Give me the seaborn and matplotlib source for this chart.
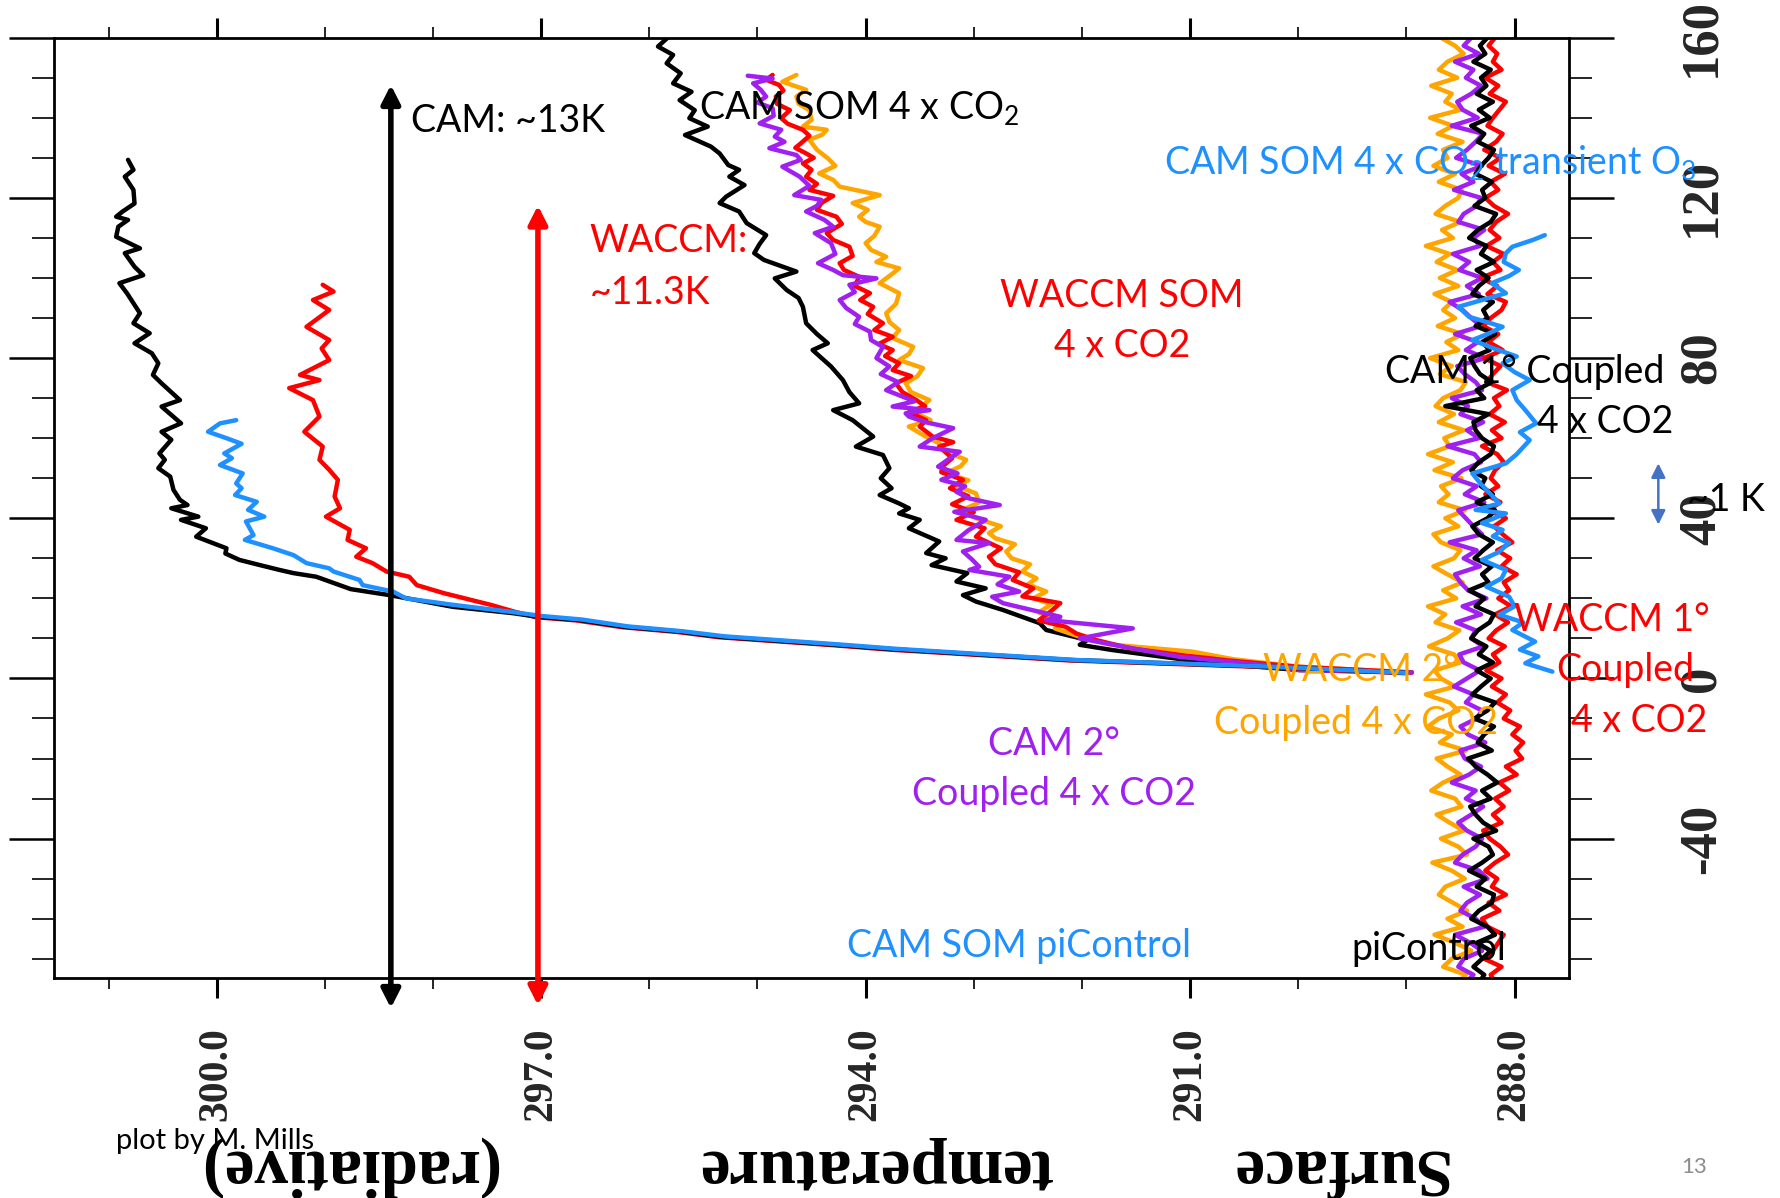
import numpy as np
import pandas as pd
import matplotlib
matplotlib.use("Agg")
import matplotlib.pyplot as plt
import seaborn as sns
from matplotlib.ticker import FixedLocator, MultipleLocator
from matplotlib.patches import ArrowStyle

# ------------------------------------------------------------------ data
temp_ticks = [300.0, 297.0, 294.0, 291.0, 288.0]
temp_tick_labels = ["300.0", "297.0", "294.0", "291.0", "288.0"]
year_ticks = [160, 120, 80, 40, 0, -40]
year_tick_labels = ["160", "120", "80", "40", "0", "-40"]

# CAM SOM 4xCO2 (black)
cam_som_yr = [1.4, 3.0, 4.6, 7.3, 8.4, 10.4, 11.7, 12.9, 14.6, 15.4, 16.3, 17.9, 20.8, 22.3, 25.4, 26.3,
              27.1, 28.3, 29.6, 31.2, 32.5, 35.4, 37.5, 39.6, 40.4, 42.5, 43.3, 44.6, 47.1, 50.4, 52.5,
              54.6, 56.2, 59.6, 61.6, 63.7, 67.9, 69.5, 73.7, 75.8, 78.7, 81.2, 83.7, 86.2, 88.7, 91.2,
              93.7, 96.2, 98.7, 100.7, 102.8, 106.2, 107.4, 110.3, 112.8, 114.5, 115.3, 116.6, 118.6,
              122.0, 125.3, 127.0, 129.5]
cam_som_t = [289.00, 290.34, 292.10, 293.75, 294.28, 295.34, 295.72, 296.23, 296.65, 297.03, 297.26,
             297.82, 298.40, 298.76, 299.08, 299.29, 299.42, 299.60, 299.79, 299.92, 299.91, 300.19,
             300.10, 300.33, 300.17, 300.42, 300.27, 300.34, 300.40, 300.43, 300.54, 300.48, 300.53,
             300.42, 300.51, 300.33, 300.51, 300.34, 300.51, 300.59, 300.54, 300.60, 300.76, 300.62,
             300.77, 300.71, 300.77, 300.83, 300.90, 300.68, 300.76, 300.85, 300.71, 300.93, 300.91,
             300.82, 300.93, 300.87, 300.76, 300.77, 300.85, 300.77, 300.82]

# CAM SOM 4xCO2 transient O3 (blue)
cam_som_o3_yr = [1.4, 3.0, 4.6, 7.4, 8.5, 10.5, 11.8, 13.0, 14.7, 15.6, 16.5, 18.4, 20.0, 21.7, 23.3,
                 24.6, 26.7, 27.5, 28.8, 30.8, 32.5, 34.6, 35.8, 39.2, 40.4, 42.1, 44.1, 45.8, 47.5,
                 48.7, 51.2, 53.3, 55.0, 56.2, 58.6, 60.0, 61.6, 63.7, 64.5]
cam_som_o3_t = [289.00, 290.30, 292.05, 293.72, 294.25, 295.30, 295.70, 296.20, 296.62, 297.00, 297.24,
                297.82, 298.25, 298.37, 298.65, 298.68, 298.92, 298.96, 299.17, 299.29, 299.48, 299.74,
                299.66, 299.73, 299.56, 299.71, 299.63, 299.83, 299.77, 299.82, 299.76, 299.97, 299.86,
                299.93, 299.77, 299.91, 300.08, 299.97, 299.82]

# WACCM SOM 4xCO2 (red)
waccm_som_yr = [1.3, 2.9, 4.5, 7.2, 8.3, 10.3, 11.6, 12.8, 14.5, 15.3, 16.7, 18.4, 21.3, 23.3, 25.4,
                26.7, 28.8, 30.4, 32.5, 34.6, 37.1, 40.4, 42.5, 45.4, 49.6, 52.1, 54.6, 57.9, 61.6,
                65.4, 69.5, 72.5, 74.5, 75.8, 79.5, 82.4, 84.5, 87.8, 92.0, 94.5, 96.6, 98.3]
waccm_som_t = [289.00, 290.36, 292.12, 293.78, 294.30, 295.36, 295.74, 296.25, 296.68, 297.05, 297.25,
               297.47, 297.90, 298.15, 298.22, 298.43, 298.56, 298.71, 298.62, 298.79, 298.77, 298.99,
               298.86, 298.91, 298.88, 298.96, 299.05, 299.02, 299.19, 299.05, 299.11, 299.33, 299.05,
               299.23, 298.96, 299.03, 298.96, 299.17, 298.96, 299.11, 298.92, 299.02]

# CAM 1 deg coupled 4xCO2 (black)
cam1_cpl_yr = [1.5, 2.1, 3.8, 5.4, 7.1, 8.4, 9.6, 12.1, 13.8, 17.1, 19.2, 20.8, 22.5, 24.2, 26.3, 28.3,
               30.0, 31.3, 34.2, 37.5, 39.6, 41.2, 42.5, 43.7, 45.8, 47.5, 50.0, 52.5, 55.8, 57.9, 60.4,
               64.5, 67.0, 68.7, 71.5, 74.5, 77.9, 82.0, 83.7, 86.0, 88.7, 92.8, 95.0, 97.0, 99.9,
               101.6, 104.5, 106.2, 108.5, 110.7, 113.7, 116.6, 118.7, 120.3, 123.2, 125.3, 127.0,
               128.2, 131.1, 132.8, 135.7, 137.8, 139.9, 141.9, 144.4, 146.5, 148.6, 151.1, 153.6,
               155.7, 157.8, 160.5]
cam1_cpl_t = [288.95, 289.99, 290.79, 291.25, 291.72, 292.02, 291.95, 292.33, 292.39, 292.73, 292.98,
              293.10, 292.89, 293.16, 293.06, 293.39, 293.26, 293.44, 293.32, 293.60, 293.50, 293.69,
              293.60, 293.69, 293.87, 293.76, 293.86, 293.78, 293.84, 294.09, 293.93, 294.12, 294.30,
              294.06, 294.15, 294.21, 294.32, 294.49, 294.35, 294.45, 294.55, 294.58, 294.62, 294.73,
              294.84, 294.64, 294.94, 295.03, 294.98, 294.92, 295.10, 295.17, 295.35, 295.29, 295.12,
              295.26, 295.17, 295.27, 295.35, 295.43, 295.67, 295.46, 295.63, 295.58, 295.72, 295.61,
              295.78, 295.71, 295.84, 295.78, 295.92, 295.81]

# CAM 2 deg coupled 4xCO2 (purple)
cam2_cpl_yr = [1.5, 2.1, 3.4, 5.4, 7.5, 10.0, 12.5, 14.6, 15.4, 17.0, 18.8, 20.4, 21.7, 23.5, 25.4,
               27.1, 27.9, 29.8, 31.7, 33.8, 34.6, 37.0, 39.6, 41.6, 43.3, 45.0, 46.6, 48.0, 49.6,
               51.2, 52.9, 55.0, 56.6, 57.9, 60.0, 62.5, 64.0, 65.4, 66.2, 67.0, 67.9, 69.2, 70.4,
               72.0, 74.0, 76.0, 77.9, 80.0, 82.8, 84.5, 86.6, 88.5, 90.3, 92.5, 94.5, 96.5, 98.3,
               99.9, 100.7, 102.0, 103.7, 106.0, 108.7, 111.2, 112.8, 114.5, 116.6, 118.0, 119.5,
               120.7, 123.0, 125.3, 127.8, 129.5, 130.7, 132.4, 134.0, 135.3, 137.0, 138.6, 140.5,
               142.4, 143.8, 145.3, 147.0, 148.6, 149.8, 150.5]
cam2_cpl_t = [288.95, 289.99, 290.33, 291.10, 291.53, 292.02, 291.53, 292.33, 292.20, 292.45, 292.73,
              292.83, 292.58, 292.78, 292.67, 293.04, 292.95, 293.02, 293.10, 292.86, 293.16, 293.05,
              292.89, 293.18, 292.76, 293.05, 293.16, 293.08, 293.30, 293.15, 293.33, 293.22, 293.13,
              293.50, 293.38, 293.19, 293.45, 293.60, 293.63, 293.41, 293.75, 293.55, 293.66, 293.81,
              293.70, 293.86, 293.78, 293.90, 293.84, 293.95, 293.96, 294.10, 294.06, 294.18, 294.24,
              294.10, 294.15, 293.90, 294.21, 294.30, 294.44, 294.28, 294.32, 294.47, 294.30, 294.38,
              294.55, 294.45, 294.41, 294.66, 294.52, 294.61, 294.77, 294.60, 294.64, 294.89, 294.75,
              294.84, 294.78, 294.98, 294.85, 294.86, 295.00, 294.92, 294.97, 295.04, 294.86, 295.09]

# WACCM 1 deg coupled 4xCO2 (red)
waccm1_cpl_yr = [1.5, 2.9, 4.5, 5.9, 7.5, 9.6, 11.2, 12.9, 14.5, 16.5, 18.8, 20.5, 22.5, 24.6, 26.5,
                 28.5, 30.4, 32.5, 35.4, 37.5, 39.6, 41.5, 43.5, 45.5, 47.5, 49.6, 51.5, 52.9, 55.0,
                 57.9, 59.0, 60.4, 62.9, 64.5, 66.5, 68.0, 69.5, 71.5, 73.7, 75.5, 77.0, 78.7, 80.5,
                 82.0, 83.5, 85.3, 87.0, 88.7, 91.0, 92.8, 94.5, 96.2, 98.0, 100.3, 102.0, 103.7,
                 105.5, 107.8, 109.5, 111.2, 113.5, 115.3, 117.0, 118.7, 120.5, 122.0, 123.5, 125.3,
                 127.0, 128.6, 130.0, 131.1, 132.5, 133.6, 135.5, 137.0, 138.5, 139.9, 141.9, 143.5,
                 145.3, 146.8, 148.2, 149.5, 150.7]
waccm1_cpl_t = [288.95, 289.99, 290.65, 291.10, 291.55, 291.87, 292.05, 292.15, 292.40, 292.30, 292.20,
                292.55, 292.45, 292.64, 292.58, 292.80, 292.86, 292.75, 292.98, 292.90, 293.16, 293.00,
                293.20, 293.05, 293.22, 293.10, 293.30, 293.29, 293.20, 293.32, 293.19, 293.38, 293.50,
                293.44, 293.60, 293.45, 293.53, 293.66, 293.72, 293.58, 293.75, 293.69, 293.82, 293.75,
                293.88, 293.75, 293.92, 293.84, 293.98, 293.93, 294.05, 293.96, 294.10, 294.06, 294.20,
                294.24, 294.12, 294.15, 294.30, 294.36, 294.22, 294.27, 294.45, 294.41, 294.30, 294.52,
                294.45, 294.55, 294.50, 294.58, 294.48, 294.55, 294.65, 294.60, 294.52, 294.58, 294.72,
                294.78, 294.70, 294.82, 294.83, 294.76, 294.80, 294.92, 294.86]

# WACCM 2 deg coupled 4xCO2 (orange)
waccm2_cpl_yr = [1.5, 2.9, 4.8, 6.7, 8.5, 10.4, 12.5, 14.6, 16.5, 18.5, 20.0, 21.7, 23.5, 25.0, 26.7,
                 28.5, 30.0, 31.7, 33.5, 35.0, 36.3, 38.0, 40.0, 42.1, 44.0, 46.2, 48.0, 49.5, 51.2,
                 53.0, 54.6, 56.5, 58.7, 60.5, 62.9, 64.5, 66.5, 68.0, 69.5, 71.5, 73.7, 75.5, 77.5,
                 79.5, 81.0, 82.8, 85.0, 87.0, 89.0, 91.2, 93.5, 96.2, 98.7, 100.5, 102.4, 104.0,
                 105.3, 107.0, 108.7, 110.5, 112.8, 114.0, 115.3, 117.0, 118.7, 120.7, 122.8, 124.5,
                 126.1, 128.0, 129.9, 132.0, 134.5, 135.8, 137.0, 137.8, 139.5, 141.9, 143.5, 145.3,
                 147.0, 149.0, 150.7]
waccm2_cpl_t = [288.95, 289.99, 290.60, 290.98, 291.75, 292.02, 292.25, 292.20, 292.40, 292.28, 292.45,
                292.33, 292.50, 292.42, 292.55, 292.48, 292.65, 292.70, 292.62, 292.80, 292.86, 292.75,
                292.98, 293.10, 292.95, 292.98, 293.15, 293.05, 293.26, 293.12, 293.07, 293.25, 293.32,
                293.45, 293.60, 293.40, 293.55, 293.48, 293.41, 293.58, 293.63, 293.52, 293.47, 293.69,
                293.60, 293.56, 293.75, 293.69, 293.78, 293.81, 293.72, 293.69, 293.87, 293.78, 293.69,
                293.90, 293.81, 293.95, 294.00, 293.92, 293.87, 294.00, 294.06, 293.98, 294.12, 293.87,
                294.24, 294.30, 294.43, 294.28, 294.35, 294.45, 294.52, 294.40, 294.36, 294.58, 294.50,
                294.52, 294.62, 294.64, 294.55, 294.77, 294.64]

# piControl runs, every 2 years from -76 to 160
ctrl_years = list(range(-76, 161, 2))
waccm2_ctrl_t = [288.52,
    288.45, 288.66, 288.58, 288.40, 288.55, 288.74, 288.48, 288.62, 288.44, 288.57,
    288.70, 288.64, 288.46, 288.58, 288.76, 288.44, 288.52, 288.68, 288.47, 288.60,
    288.72, 288.49, 288.55, 288.77, 288.66, 288.50, 288.62, 288.72, 288.45, 288.69,
    288.58, 288.80, 288.70, 288.52, 288.60, 288.82, 288.55, 288.68, 288.74, 288.50,
    288.56, 288.79, 288.62, 288.51, 288.73, 288.64, 288.80, 288.54, 288.66, 288.48,
    288.62, 288.75, 288.56, 288.50, 288.68, 288.75, 288.52, 288.64, 288.46, 288.70,
    288.61, 288.68, 288.49, 288.74, 288.57, 288.80, 288.60, 288.65, 288.47, 288.70,
    288.56, 288.73, 288.66, 288.50, 288.45, 288.69, 288.58, 288.78, 288.52, 288.63,
    288.48, 288.71, 288.55, 288.66, 288.58, 288.74, 288.52, 288.69, 288.53, 288.72,
    288.60, 288.82, 288.57, 288.67, 288.50, 288.73, 288.64, 288.52, 288.49, 288.70,
    288.55, 288.75, 288.62, 288.66, 288.48, 288.71, 288.57, 288.78, 288.50, 288.64,
    288.58, 288.77, 288.53, 288.70, 288.62, 288.47, 288.55, 288.68]
cam2_ctrl_t = [288.45,
    288.38, 288.52, 288.47, 288.30, 288.41, 288.55, 288.28, 288.36, 288.50, 288.44,
    288.32, 288.47, 288.25, 288.33, 288.55, 288.48, 288.36, 288.30, 288.44, 288.52,
    288.40, 288.29, 288.45, 288.36, 288.58, 288.42, 288.31, 288.46, 288.50, 288.27,
    288.43, 288.50, 288.35, 288.30, 288.45, 288.38, 288.56, 288.44, 288.32, 288.47,
    288.51, 288.29, 288.40, 288.36, 288.54, 288.31, 288.48, 288.26, 288.43, 288.50,
    288.55, 288.32, 288.47, 288.35, 288.60, 288.30, 288.38, 288.45, 288.52, 288.28,
    288.46, 288.35, 288.57, 288.48, 288.31, 288.37, 288.62, 288.33, 288.44, 288.29,
    288.50, 288.43, 288.58, 288.30, 288.36, 288.46, 288.53, 288.27, 288.45, 288.34,
    288.55, 288.31, 288.40, 288.48, 288.60, 288.33, 288.44, 288.30, 288.51, 288.42,
    288.57, 288.32, 288.38, 288.28, 288.52, 288.47, 288.35, 288.31, 288.56, 288.38,
    288.49, 288.30, 288.54, 288.44, 288.36, 288.29, 288.58, 288.34, 288.48, 288.53,
    288.40, 288.31, 288.45, 288.38, 288.55, 288.33, 288.47, 288.40]
cam1_ctrl_t = [288.33,
    288.28, 288.38, 288.30, 288.22, 288.35, 288.18, 288.25, 288.40, 288.33, 288.21,
    288.19, 288.35, 288.27, 288.42, 288.30, 288.20, 288.24, 288.38, 288.17, 288.29,
    288.36, 288.41, 288.22, 288.30, 288.16, 288.25, 288.36, 288.43, 288.21, 288.34,
    288.28, 288.19, 288.37, 288.25, 288.18, 288.39, 288.31, 288.22, 288.35, 288.20,
    288.33, 288.26, 288.40, 288.34, 288.23, 288.19, 288.36, 288.28, 288.42, 288.24,
    288.30, 288.21, 288.37, 288.29, 288.20, 288.33, 288.39, 288.25, 288.18, 288.35,
    288.20, 288.31, 288.27, 288.40, 288.33, 288.22, 288.19, 288.30, 288.36, 288.38,
    288.24, 288.64, 288.28, 288.35, 288.21, 288.32, 288.37, 288.41, 288.23, 288.30,
    288.18, 288.36, 288.25, 288.29, 288.20, 288.39, 288.33, 288.24, 288.35, 288.19,
    288.31, 288.26, 288.42, 288.34, 288.22, 288.17, 288.37, 288.27, 288.30, 288.21,
    288.36, 288.31, 288.24, 288.19, 288.34, 288.28, 288.40, 288.23, 288.33, 288.20,
    288.35, 288.26, 288.31, 288.22, 288.38, 288.27, 288.32, 288.25]
waccm1_ctrl_t = [288.18,
    288.22, 288.12, 288.28, 288.20, 288.15, 288.10, 288.25, 288.30, 288.14, 288.24,
    288.08, 288.21, 288.16, 288.27, 288.18, 288.06, 288.13, 288.23, 288.29, 288.12,
    288.20, 288.10, 288.18, 288.05, 288.14, 287.98, 288.08, 287.93, 287.99, 287.92,
    288.02, 287.95, 288.10, 288.04, 288.16, 288.08, 288.21, 288.12, 288.26, 288.14,
    288.20, 288.09, 288.24, 288.17, 288.06, 288.18, 288.03, 288.15, 288.05, 288.10,
    287.98, 288.12, 288.04, 288.16, 288.02, 288.11, 288.19, 288.08, 288.24, 288.13,
    288.27, 288.15, 288.22, 288.18, 288.10, 288.16, 288.30, 288.12, 288.21, 288.09,
    288.23, 288.14, 288.19, 288.07, 288.26, 288.20, 288.13, 288.28, 288.11, 288.24,
    288.15, 288.29, 288.22, 288.12, 288.08, 288.25, 288.16, 288.31, 288.13, 288.20,
    288.10, 288.26, 288.14, 288.23, 288.17, 288.06, 288.19, 288.27, 288.15, 288.22,
    288.09, 288.24, 288.13, 288.28, 288.17, 288.11, 288.25, 288.20, 288.14, 288.08,
    288.23, 288.15, 288.27, 288.12, 288.20, 288.16, 288.24, 288.18]

# CAM SOM piControl (blue)
cam_som_ctrl_yr = [1.7, 3.8, 5.5, 7.2, 9.2, 12.1, 14.0, 15.9, 18.0, 20.4, 22.9, 25.0, 27.1, 29.6, 31.5,
                   33.8, 35.5, 37.1, 38.8, 41.2, 42.1, 43.7, 46.0, 48.5, 51.2, 53.7, 56.0, 59.5, 61.5,
                   63.7, 67.0, 69.5, 72.0, 74.5, 76.5, 78.7, 80.4, 82.5, 84.5, 86.0, 87.8, 90.3, 92.8,
                   94.5, 96.2, 98.7, 100.5, 102.0, 104.0, 106.2, 107.8, 109.5, 110.7]
cam_som_ctrl_t = [287.65, 287.90, 287.78, 287.95, 287.81, 288.02, 287.92, 288.14, 288.00, 288.05, 288.26,
                  288.12, 288.08, 288.30, 288.15, 288.05, 288.20, 288.11, 288.30, 288.08, 288.36, 288.14,
                  288.22, 288.31, 288.39, 288.08, 287.98, 287.86, 287.95, 287.80, 287.90, 287.98, 288.02,
                  287.86, 288.00, 288.11, 287.98, 288.20, 288.39, 288.25, 288.11, 288.42, 288.52, 288.30,
                  288.08, 288.21, 288.05, 287.96, 288.10, 288.08, 288.02, 287.83, 287.72]

# vertical "warming" arrows: (temperature, year top, year bottom)
cam_arrow = (298.39, 148.2, -82.3)
waccm_arrow = (297.03, 118.1, -81.6)

BLACK, RED, BLUE, PURPLE, ORANGE = "#000000", "#FF0000", "#1E90FF", "#A020F0", "#FFA500"

runs = [
    ("WACCM 2deg piControl", ctrl_years, waccm2_ctrl_t, ORANGE),
    ("CAM 2deg piControl", ctrl_years, cam2_ctrl_t, PURPLE),
    ("WACCM 1deg piControl", ctrl_years, waccm1_ctrl_t, RED),
    ("CAM 1deg piControl", ctrl_years, cam1_ctrl_t, BLACK),
    ("CAM SOM piControl", cam_som_ctrl_yr, cam_som_ctrl_t, BLUE),
    ("CAM 1deg coupled", cam1_cpl_yr, cam1_cpl_t, BLACK),
    ("WACCM 2deg coupled", waccm2_cpl_yr, waccm2_cpl_t, ORANGE),
    ("WACCM 1deg coupled", waccm1_cpl_yr, waccm1_cpl_t, RED),
    ("CAM 2deg coupled", cam2_cpl_yr, cam2_cpl_t, PURPLE),
    ("WACCM SOM", waccm_som_yr, waccm_som_t, RED),
    ("CAM SOM", cam_som_yr, cam_som_t, BLACK),
    ("CAM SOM O3", cam_som_o3_yr, cam_som_o3_t, BLUE),
]

# ------------------------------------------------------------------ style
sns.set_style("white")
plt.rcParams["font.family"] = ["Lato", "DejaVu Sans"]
plt.rcParams["mathtext.fontset"] = "custom"
plt.rcParams["mathtext.rm"] = "Lato"
plt.rcParams["mathtext.it"] = "Lato:italic"
plt.rcParams["mathtext.bf"] = "Lato:bold"

W, H = 1781, 1198
fig = plt.figure(figsize=(W / 100, H / 100), dpi=100)
ax = fig.add_axes([54.5 / W, 1 - 978 / H, (1568.6 - 54.5) / W, (978 - 37.5) / H])

for name, yrs, temps, col in runs:
    df = pd.DataFrame({"year": yrs, "T": temps})
    sns.lineplot(data=df, x="T", y="year", sort=False, estimator=None, orient="y",
                 color=col, lw=3.2, ax=ax, legend=False)

ax.set_xlim(301.5, 287.5)
ax.set_ylim(-74.8, 160.05)
ax.set_xlabel("")
ax.set_ylabel("")

for s in ax.spines.values():
    s.set_visible(True)
    s.set_linewidth(2.0)
    s.set_color("black")

ax.xaxis.set_major_locator(FixedLocator(temp_ticks))
ax.xaxis.set_minor_locator(MultipleLocator(1.0))
ax.set_xticklabels(temp_tick_labels)
ax.yaxis.set_major_locator(FixedLocator(year_ticks))
ax.yaxis.set_minor_locator(MultipleLocator(10))
ax.set_yticklabels(year_tick_labels)

ax.tick_params(axis="x", which="major", direction="out", length=14.4, width=2.2, top=True,
               bottom=True, labeltop=False, labelbottom=True, pad=21, labelrotation=90,
               labelsize=30, color="black")
ax.tick_params(axis="x", which="minor", direction="out", length=7.6, width=1.2, top=True,
               bottom=True, color="black")
ax.tick_params(axis="y", which="major", direction="out", length=32.4, width=1.8, left=True,
               right=True, labelleft=False, labelright=True, pad=46, labelrotation=90,
               labelsize=38, color="black")
ax.tick_params(axis="y", which="minor", direction="out", length=16.2, width=1.2, left=True,
               right=True, color="black")
for lab in ax.get_xticklabels():
    lab.set_fontfamily("Liberation Serif")
    lab.set_fontweight("bold")
for lab in ax.get_yticklabels():
    lab.set_fontfamily("Liberation Serif")
    lab.set_fontweight("bold")
    lab.set_verticalalignment("center")
    lab.set_horizontalalignment("left")

# arrows
for (tx, y0, y1), col in [(cam_arrow, BLACK), (waccm_arrow, RED)]:
    ax.annotate("", xy=(tx, y0), xytext=(tx, y1),
                arrowprops=dict(arrowstyle=ArrowStyle("<|-|>", head_length=0.55, head_width=0.28),
                                mutation_scale=20, color=col, lw=4, shrinkA=0, shrinkB=0),
                annotation_clip=False)

fig.patches.append(matplotlib.patches.FancyArrowPatch(
    (1460 / 1568, 1 - 408 / 1055), (1460 / 1568, 1 - 462 / 1055), transform=fig.transFigure,
    arrowstyle=ArrowStyle("<|-|>", head_length=0.6, head_width=0.3), mutation_scale=14,
    color="#4472C4", lw=1.8, shrinkA=0, shrinkB=0))

# annotations (x, baseline y in 1568x1055 reference units)
def note(x, y, s, col, size=27, ha="left"):
    fig.text(x / 1568, 1 - y / 1055, s, color=col, fontsize=size, ha=ha, va="baseline",
             fontfamily=["Lato", "DejaVu Sans"])

note(362, 116, "CAM: ~13K", BLACK)
note(615, 105, r"CAM SOM 4 x CO$_\mathregular{2}$", BLACK)
note(1025, 153, r"CAM SOM 4 x CO$_\mathregular{2}$ transient O$_\mathregular{3}$", BLUE)
note(519, 222, "WACCM:", RED)
note(519, 268, "~11.3K", RED)
note(988, 270, "WACCM SOM", RED, ha="center")
note(988, 314, "4 x CO2", RED, ha="center")
note(1219, 337, "CAM 1° Coupled", BLACK)
note(1353, 381, "4 x CO2", BLACK)
note(1485, 450, "~1 K", BLACK)
note(1333, 556, "WACCM 1°", RED)
note(1370, 600, "Coupled", RED)
note(1383, 645, "4 x CO2", RED)
note(1112, 600, "WACCM 2°", ORANGE)
note(1069, 646, "Coupled 4 x CO2", ORANGE)
note(928, 665, "CAM 2°", PURPLE, ha="center")
note(928, 709, "Coupled 4 x CO2", PURPLE, ha="center")
note(746, 843, "CAM SOM piControl", BLUE)
note(1190, 845, "piControl", BLACK)
note(102, 1012, "plot by M. Mills", BLACK, size=21)
note(1480, 1033, "13", "#8C8C8C", size=16)

# upside-down axis title
for word, xc in [("Surface", 1177), ("temperature", 770), ("(radiative)", 306)]:
    fig.text(xc / 1568, 1 - 1013 / 1055, word, rotation=180, rotation_mode="anchor",
             ha="center", va="baseline", fontsize=48, fontweight="bold",
             fontfamily="Liberation Serif", color="black")

fig.savefig("out.png", dpi=100, facecolor="white")
